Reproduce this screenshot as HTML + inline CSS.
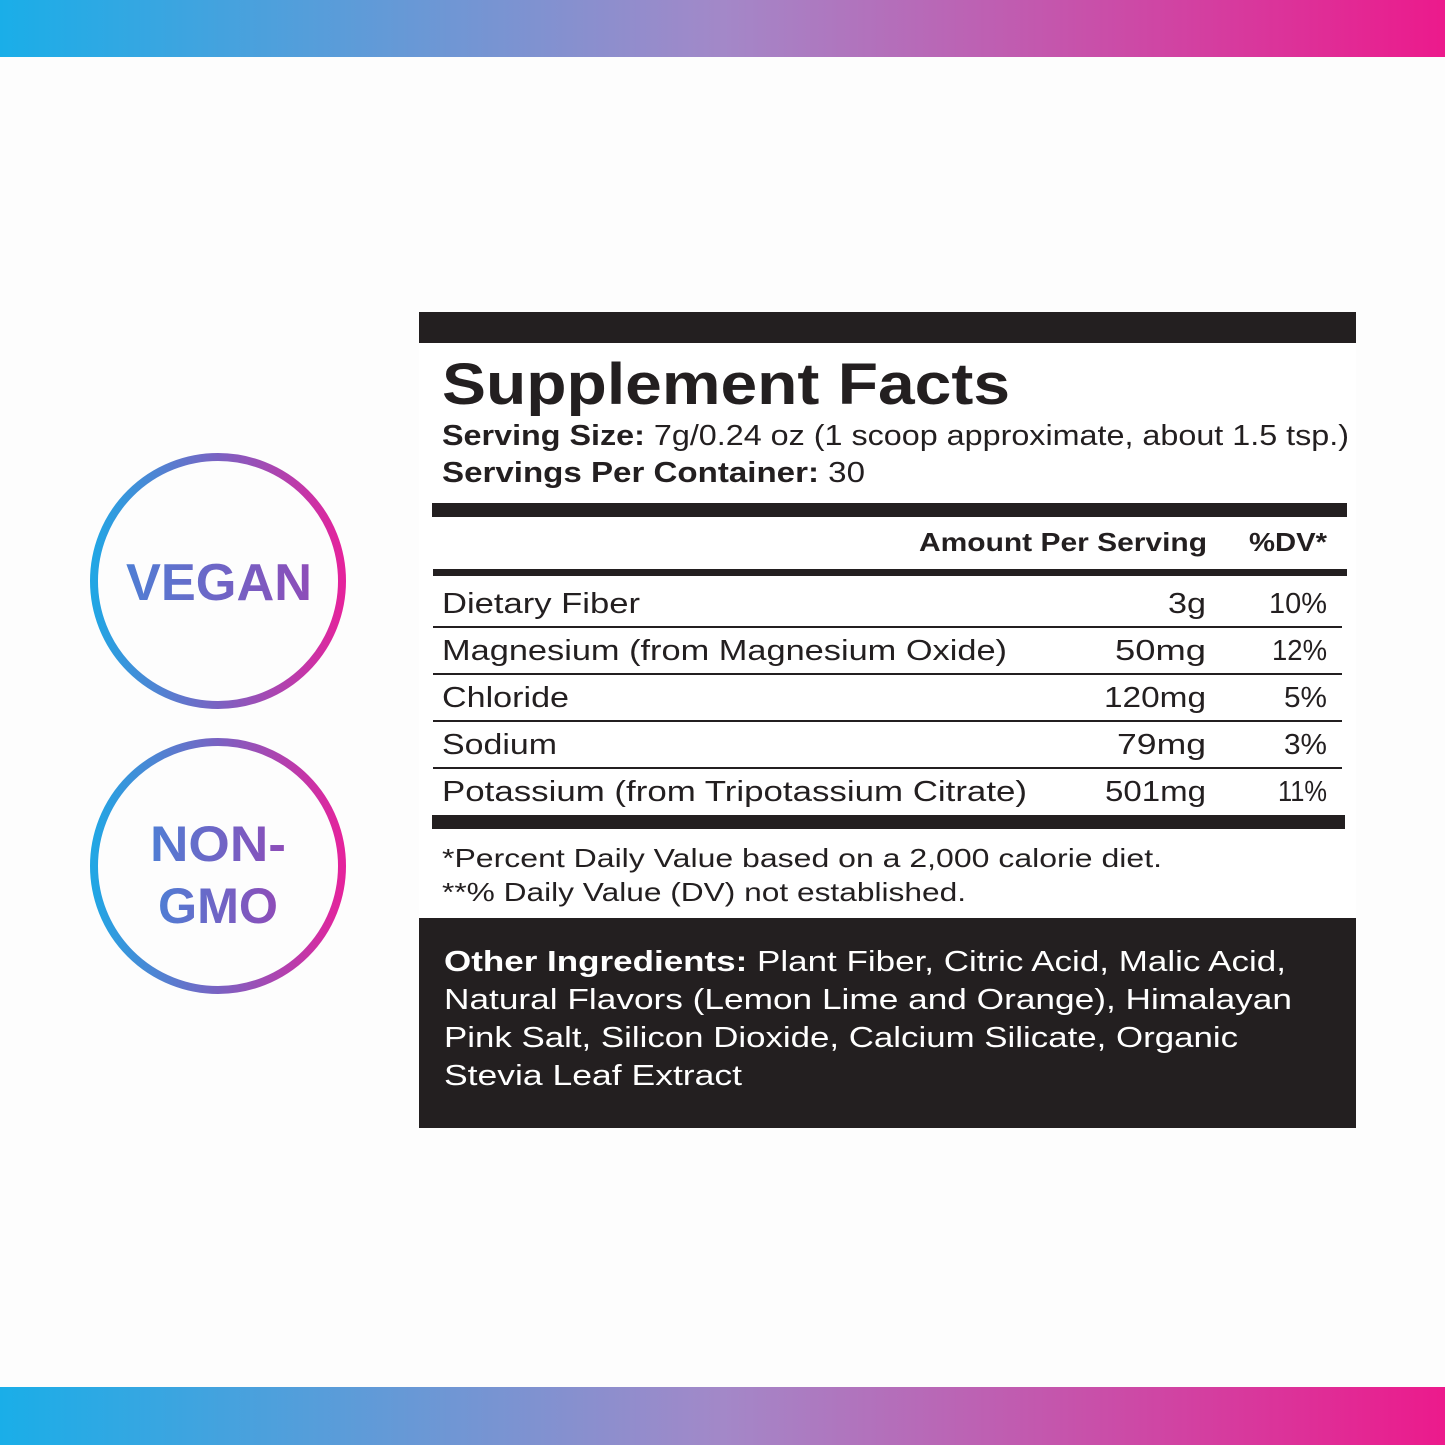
<!DOCTYPE html>
<html><head><style>html,body{margin:0;padding:0;background:#fff}svg{display:block}</style></head><body>
<svg width="1445" height="1445" viewBox="0 0 1445 1445" xmlns="http://www.w3.org/2000/svg" font-family="Liberation Sans, sans-serif">
<defs>
<linearGradient id="g" x1="0" x2="1" y1="0" y2="0"><stop offset="0" stop-color="#1aaee8"/><stop offset="0.5" stop-color="#a388c8"/><stop offset="1" stop-color="#ec1a8c"/></linearGradient>
<linearGradient id="c" x1="0" x2="1" y1="0" y2="0"><stop offset="0" stop-color="#22a6e4"/><stop offset="0.5" stop-color="#7a62c2"/><stop offset="1" stop-color="#e4239c"/></linearGradient>
<linearGradient id="t" x1="0" x2="1" y1="0" y2="0"><stop offset="0" stop-color="#4f7ed4"/><stop offset="1" stop-color="#8e4cb8"/></linearGradient>
</defs>
<rect width="1445" height="1445" fill="#fdfdfd"/>
<rect x="0" y="0" width="1445" height="57" fill="url(#g)"/>
<rect x="0" y="1387" width="1445" height="58" fill="url(#g)"/>
<circle cx="218" cy="581" r="124" fill="none" stroke="url(#c)" stroke-width="8"/>
<circle cx="218" cy="866" r="124" fill="none" stroke="url(#c)" stroke-width="8"/>
<text x="219" y="600" text-anchor="middle" font-size="52" font-weight="bold" fill="url(#t)" textLength="186" lengthAdjust="spacingAndGlyphs">VEGAN</text>
<text x="218" y="861" text-anchor="middle" font-size="50" font-weight="bold" fill="url(#t)" textLength="136" lengthAdjust="spacingAndGlyphs">NON-</text>
<text x="218" y="923" text-anchor="middle" font-size="50" font-weight="bold" fill="url(#t)" textLength="120" lengthAdjust="spacingAndGlyphs">GMO</text>
<rect x="419" y="312" width="937" height="31" fill="#231f20"/>
<rect x="419" y="343" width="937" height="575" fill="#fff"/>
<g fill="#231f20">
<text x="442" y="404" font-size="58" font-weight="bold" textLength="568" lengthAdjust="spacingAndGlyphs">Supplement Facts</text>
<text x="442" y="445" font-size="29" textLength="907" lengthAdjust="spacingAndGlyphs"><tspan font-weight="bold">Serving Size:</tspan> 7g/0.24 oz (1 scoop approximate, about 1.5 tsp.)</text>
<text x="442" y="482" font-size="29" textLength="423" lengthAdjust="spacingAndGlyphs"><tspan font-weight="bold">Servings Per Container:</tspan> 30</text>
<rect x="432" y="503" width="915" height="14"/>
<text x="919" y="551" font-size="26" font-weight="bold" textLength="288" lengthAdjust="spacingAndGlyphs">Amount Per Serving</text>
<text x="1249" y="551" font-size="26" font-weight="bold" textLength="78" lengthAdjust="spacingAndGlyphs">%DV*</text>
<rect x="433" y="569" width="914" height="7"/>
<g font-size="29">
<text x="442" y="613" textLength="198" lengthAdjust="spacingAndGlyphs">Dietary Fiber</text>
<text x="1168" y="613" textLength="38" lengthAdjust="spacingAndGlyphs">3g</text><text x="1269" y="613" textLength="58" lengthAdjust="spacingAndGlyphs">10%</text>
<text x="442" y="660" textLength="565" lengthAdjust="spacingAndGlyphs">Magnesium (from Magnesium Oxide)</text>
<text x="1115" y="660" textLength="91" lengthAdjust="spacingAndGlyphs">50mg</text><text x="1272" y="660" textLength="55" lengthAdjust="spacingAndGlyphs">12%</text>
<text x="442" y="707" textLength="127" lengthAdjust="spacingAndGlyphs">Chloride</text>
<text x="1104" y="707" textLength="102" lengthAdjust="spacingAndGlyphs">120mg</text><text x="1284" y="707" textLength="43" lengthAdjust="spacingAndGlyphs">5%</text>
<text x="442" y="754" textLength="115" lengthAdjust="spacingAndGlyphs">Sodium</text>
<text x="1117" y="754" textLength="89" lengthAdjust="spacingAndGlyphs">79mg</text><text x="1284" y="754" textLength="43" lengthAdjust="spacingAndGlyphs">3%</text>
<text x="442" y="801" textLength="585" lengthAdjust="spacingAndGlyphs">Potassium (from Tripotassium Citrate)</text>
<text x="1105" y="801" textLength="101" lengthAdjust="spacingAndGlyphs">501mg</text><text x="1278" y="801" textLength="49" lengthAdjust="spacingAndGlyphs">11%</text>
</g>
<rect x="433" y="626" width="909" height="2"/>
<rect x="433" y="673" width="909" height="2"/>
<rect x="433" y="720" width="909" height="2"/>
<rect x="433" y="767" width="909" height="2"/>
<rect x="432" y="815" width="913" height="14"/>
<text x="442" y="867" font-size="26" textLength="720" lengthAdjust="spacingAndGlyphs">*Percent Daily Value based on a 2,000 calorie diet.</text>
<text x="442" y="901" font-size="26" textLength="524" lengthAdjust="spacingAndGlyphs">**% Daily Value (DV) not established.</text>
</g>
<rect x="419" y="918" width="937" height="210" fill="#231f20"/>
<g fill="#fff" font-size="29">
<text x="444" y="971" textLength="842" lengthAdjust="spacingAndGlyphs"><tspan font-weight="bold">Other Ingredients:</tspan> Plant Fiber, Citric Acid, Malic Acid,</text>
<text x="444" y="1009" textLength="848" lengthAdjust="spacingAndGlyphs">Natural Flavors (Lemon Lime and Orange), Himalayan</text>
<text x="444" y="1047" textLength="794" lengthAdjust="spacingAndGlyphs">Pink Salt, Silicon Dioxide, Calcium Silicate, Organic</text>
<text x="444" y="1085" textLength="298" lengthAdjust="spacingAndGlyphs">Stevia Leaf Extract</text>
</g>
</svg>
</body></html>
